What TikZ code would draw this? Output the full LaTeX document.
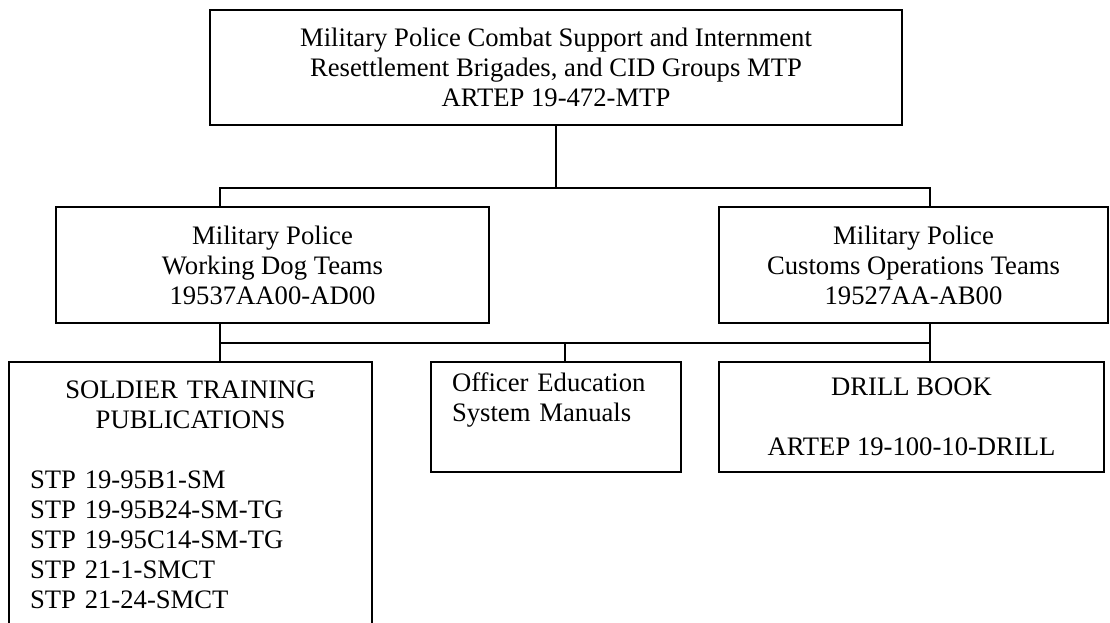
\documentclass[tikz,border=0pt]{standalone}
\usepackage{fontspec}
\setmainfont{Liberation Serif}
\usetikzlibrary{positioning,calc}
\newcommand{\px}{0.75pt}
\tikzset{every picture/.style={/utils/exec={\rmfamily}}}
\tikzset{box/.style={draw=black, line width=1.2pt, inner sep=0pt, align=center, font=\fontsize{20pt}{22.5pt}\selectfont}}

\begin{document}
\begin{tikzpicture}[x=0.75pt, y=-0.75pt, line width=1.2pt]

    \useasboundingbox (0,0) rectangle (1110,623);
    \clip (0,0) rectangle (1110,623);

    \node[box, minimum width=692*\px, minimum height=115*\px] (mtp) at (556, 67.5) {Military Police Combat Support and Internment\\Resettlement Brigades, and CID Groups MTP\\ARTEP 19-472-MTP};

    \node[box, minimum width=433*\px, minimum height=116*\px] (dog) at (272.5, 265) {Military Police\\Working Dog Teams\\19537AA00-AD00};
    \node[box, minimum width=389*\px, minimum height=116*\px] (cust) at (913.5, 265) {Military Police\\Customs Operations Teams\\19527AA-AB00};

    \node[box, align=left, text width=321*\px, inner xsep=21*\px, minimum height=266*\px] (stp) at (190.5, 495) {{\centering SOLDIER TRAINING\\PUBLICATIONS\par}\strut\par STP 19-95B1-SM\\STP 19-95B24-SM-TG\\STP 19-95C14-SM-TG\\STP 21-1-SMCT\\STP 21-24-SMCT};
    \node[box, align=left, text width=208*\px, inner xsep=21*\px, minimum height=110*\px] (oes) at (556, 417) {Officer Education\\System Manuals\\\strut};
    \node[box, minimum width=385*\px, minimum height=110*\px] (drill) at (911.5, 417) {DRILL BOOK\\[22.5pt]ARTEP 19-100-10-DRILL};

    \coordinate (b1l) at (220, 188) ;
    \coordinate (b1r) at (930, 188) ;
    \coordinate (b2l) at (220, 343) ;
    \coordinate (b2m) at (565, 343) ;
    \coordinate (b2r) at (930, 343) ;

    \draw (mtp.south) -- (mtp.south |- b1l);
    \draw (b1l |- dog.north) -- (b1l) -- (b1r) -- (b1r |- cust.north);

    \draw (b2l |- dog.south) -- (b2l |- stp.north);
    \draw (b2r |- cust.south) -- (b2r |- drill.north);
    \draw (b2l) -- (b2r);
    \draw (b2m) -- (b2m |- oes.north);
\end{tikzpicture}
\end{document}
